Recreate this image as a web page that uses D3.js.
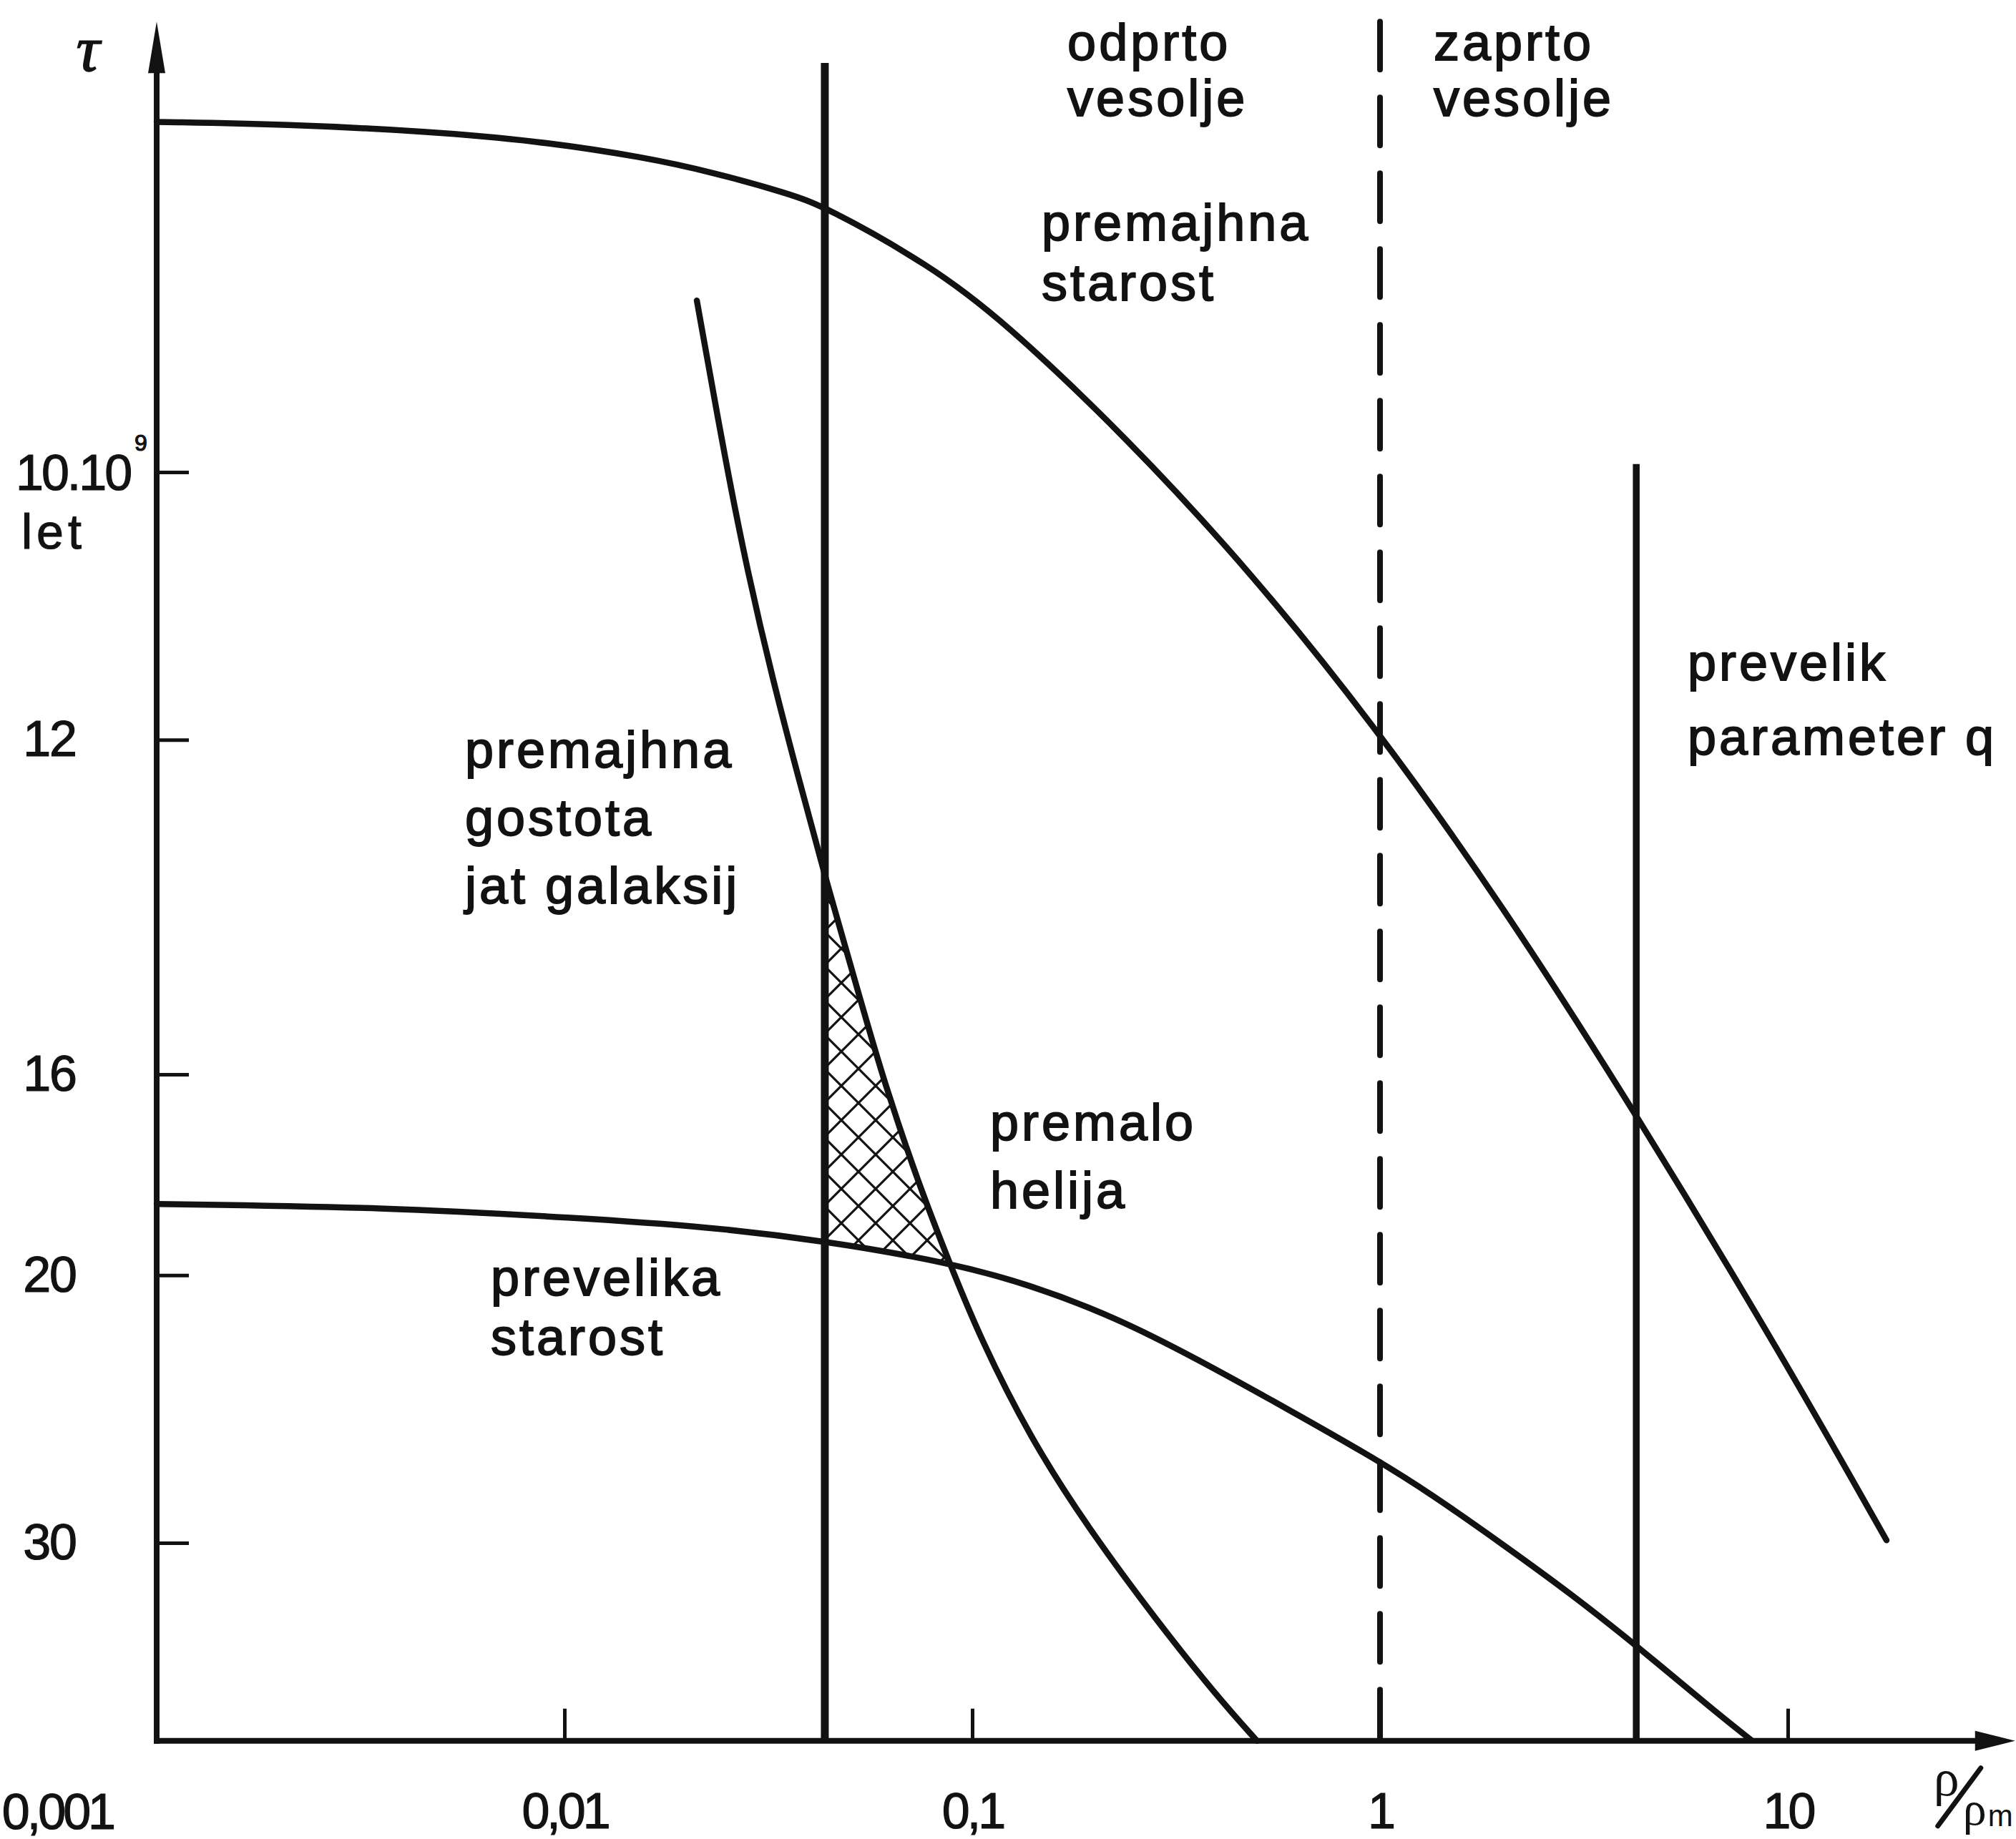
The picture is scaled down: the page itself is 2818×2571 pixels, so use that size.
<!DOCTYPE html>
<html><head><meta charset="utf-8">
<script src="https://cdn.jsdelivr.net/npm/d3@7"></script>
<style>html,body{margin:0;padding:0;background:#fff;} svg{display:block;}</style>
</head><body>
<svg id="chart" width="2818" height="2571"></svg>
<script>
// ---------------- data (ρ/ρm , τ in 10^9 years) ----------------
const xTickValues = [0.01, 0.1, 1, 10];
const xTickLabels = ["0,01", "0,1", "1", "10"];
const xOriginLabel = "0,001";
const yTickValues = [10, 12, 16, 20, 30];
const yTickLabels = ["10.10", "12", "16", "20", "30"];
const yExponent = "9";
const yUnit = "let";

// upper age curve ("premajhna starost")
const topCurve = [[0.001,8.21],[0.00208,8.22],[0.00466,8.25],[0.00854,8.29],[0.01565,8.36],[0.02346,8.43],
  [0.03512,8.52],[0.04351,8.58],[0.07876,8.86],[0.118,9.13],[0.2393,9.79],[0.4815,10.66],[0.988,11.91],
  [1.995,13.69],[4.162,16.55],[9.761,22.30],[17.46,29.85]];
// helium curve ("premalo helija")
const heliumCurve = [[0.02112,9.035],[0.02492,9.956],[0.02812,10.66],[0.03239,11.48],[0.03761,12.37],
  [0.04351,13.36],[0.05052,14.46],[0.0601,16.03],[0.07418,18.0],[0.08789,19.69],[0.1045,21.69],
  [0.1387,25.08],[0.1916,29.14],[0.287,35.33],[0.3964,41.93],[0.4992,47.6]];
// lower age curve ("prevelika starost")
const lowerCurve = [[0.001,18.37],[0.003642,18.44],[0.01084,18.67],[0.02234,18.86],[0.04351,19.18],
  [0.08789,19.69],[0.1376,20.23],[0.2252,21.11],[0.3527,22.30],[0.594,24.0],[0.988,25.99],[1.332,27.48],
  [1.995,30.06],[2.988,33.30],[4.247,37.09],[6.705,44.0],[8.138,47.5]];
// allowed region (hatched)
const allowedRegion = [[0.04351,13.36],[0.05052,14.46],[0.0601,16.03],[0.07418,18.0],[0.08789,19.69],[0.04351,19.18]];
// vertical boundaries
const boundaryRho = [0.0435, 1, 4.25];
const boundaryTop = [7.97, 7.81, 9.95];
const boundaryDashed = [false, true, false];
// axis extents
const tauAxisTop = 7.81, tauAxisBottom = 47.6, rhoAxisEnd = 36.1;
// region labels: text lines with data anchors
const labelText = ["odprto","vesolje","zaprto","vesolje","premajhna","starost","premajhna","gostota","jat galaksij",
  "premalo","helija","prevelika","starost","prevelik","parameter q"];
const labelRho = [0.1712,0.1712,1.354,1.354,0.148,0.148,0.005703,0.005703,0.005703,0.1106,0.1106,0.006596,0.006596,5.68,5.68];
const labelTau = [7.959,8.185,7.959,8.185,8.739,9.034,12.254,12.924,13.671,17.12,18.459,20.52,22.2,11.49,12.135];

// ---------------- drawing ----------------
const svg = d3.select("#chart");
const W = 2818;
const ink = "#121212";
const sans = "'Liberation Sans', Arial, Helvetica, sans-serif";
const serif = "'Liberation Serif', 'DejaVu Serif', serif";
const x = d3.scaleLog().domain([0.001, 10]).range([219, 2499]);
const y = d3.scalePow().exponent(-1).domain([10, 30]).range([660, 2157]);
const x0 = x(0.001), yBase = y(tauAxisBottom), yTip = y(tauAxisTop), xTip = x(rhoAxisEnd);

svg.append("rect").attr("width", W).attr("height", 2571).attr("fill", "#fff");

const defs = svg.append("defs");
const pat = defs.append("pattern").attr("id", "hatch").attr("patternUnits", "userSpaceOnUse")
  .attr("width", 48).attr("height", 48).attr("patternTransform", "translate(0,6)");
pat.append("path").attr("d", "M0,0L48,48M48,0L0,48M-4,44L4,52M44,-4L52,4M-4,4L4,-4M44,52L52,44")
  .attr("stroke", ink).attr("stroke-width", 3.2).attr("fill", "none");

svg.append("path").datum(allowedRegion)
  .attr("d", d3.line().x(d => x(d[0])).y(d => y(d[1])).curve(d3.curveLinearClosed))
  .attr("fill", "url(#hatch)").attr("stroke", "none");

const smooth = d3.line().x(d => x(d[0])).y(d => y(d[1])).curve(d3.curveBasis);
[topCurve, heliumCurve, lowerCurve].forEach(c => {
  svg.append("path").datum(c).attr("d", smooth).attr("fill", "none")
    .attr("stroke", ink).attr("stroke-width", 8.5).attr("stroke-linecap", "round").attr("stroke-linejoin", "round");
});

boundaryRho.forEach((r, i) => {
  const l = svg.append("line").attr("x1", x(r)).attr("x2", x(r))
    .attr("y1", y(boundaryTop[i])).attr("y2", yBase).attr("stroke", ink);
  if (boundaryDashed[i]) {
    l.attr("stroke-width", 8).attr("stroke-dasharray", "67 39").attr("stroke-linecap", "round");
  } else {
    l.attr("stroke-width", i === 0 ? 11 : 9.5);
  }
});

// axes
const gy = svg.append("g").attr("transform", `translate(${x0},0)`)
  .call(d3.axisLeft(y).tickValues(yTickValues).tickSizeInner(-45).tickSizeOuter(0).tickPadding(113)
    .tickFormat((d, i) => i === 0 ? "" : yTickLabels[i]));
gy.select(".domain").remove();
gy.attr("font-family", sans).attr("font-size", 70);
gy.selectAll(".tick line").attr("stroke", ink).attr("stroke-width", 5);
gy.selectAll(".tick text").attr("fill", ink).attr("letter-spacing", -2).attr("stroke", ink).attr("stroke-width", 1.2);

const gx = svg.append("g").attr("transform", `translate(0,${yBase})`)
  .call(d3.axisBottom(x).tickValues(xTickValues).tickSizeInner(-45).tickSizeOuter(0).tickPadding(73)
    .tickFormat((d, i) => xTickLabels[i]));
gx.select(".domain").remove();
gx.attr("font-family", sans).attr("font-size", 70);
gx.selectAll(".tick line").attr("stroke", ink).attr("stroke-width", 5);
gx.selectAll(".tick text").attr("fill", ink).attr("letter-spacing", -4).attr("stroke", ink).attr("stroke-width", 1.2);

svg.append("line").attr("x1", x0).attr("x2", x0).attr("y1", yBase + 4).attr("y2", yTip + 60)
  .attr("stroke", ink).attr("stroke-width", 8);
svg.append("path").attr("d", `M${x0},${yTip}L${x0 - 12},${yTip + 72}L${x0 + 12},${yTip + 72}Z`).attr("fill", ink);
svg.append("line").attr("x1", x0 - 4).attr("x2", xTip - 50).attr("y1", yBase).attr("y2", yBase)
  .attr("stroke", ink).attr("stroke-width", 8);
svg.append("path").attr("d", `M${xTip},${yBase}L${xTip - 56},${yBase - 14}L${xTip - 56},${yBase + 14}Z`).attr("fill", ink);

// axis labels
const tickText = (sel) => sel.attr("font-family", sans).attr("fill", ink).attr("stroke", ink).attr("stroke-width", 1.2);
svg.append("text").attr("x", x0 - 61).attr("y", yBase + 123).attr("text-anchor", "end")
  .attr("font-size", 70).attr("letter-spacing", -4).call(tickText).text(xOriginLabel);
svg.append("text").attr("x", x0 - 197).attr("y", y(10) + 25).attr("font-size", 70)
  .attr("letter-spacing", -3).call(tickText).text(yTickLabels[0]);
svg.append("text").attr("x", x0 - 31).attr("y", y(10) - 30).attr("font-size", 32).call(tickText).text(yExponent);
svg.append("text").attr("x", x0 - 189).attr("y", y(10) + 107).attr("font-size", 68)
  .attr("letter-spacing", 6).call(tickText).text(yUnit);
svg.append("text").attr("x", x0 - 96).attr("y", yTip + 69).attr("text-anchor", "middle")
  .attr("font-family", serif).attr("font-style", "italic").attr("font-size", 92).attr("fill", ink)
  .attr("stroke", ink).attr("stroke-width", 1.5).text("τ");

// ρ/ρm
const rl = svg.append("g").attr("fill", ink).attr("font-family", serif);
rl.append("text").attr("x", xTip - 114).attr("y", yBase + 76).attr("font-size", 72).text("ρ");
rl.append("line").attr("x1", xTip - 48).attr("y1", yBase + 38).attr("x2", xTip - 108).attr("y2", yBase + 119)
  .attr("stroke", ink).attr("stroke-width", 7).attr("stroke-linecap", "round");
rl.append("text").attr("x", xTip - 73).attr("y", yBase + 117).attr("font-size", 66).text("ρ");
rl.append("text").attr("x", xTip - 38).attr("y", yBase + 119).attr("font-size", 42).attr("font-family", sans).text("m");

// region labels
svg.append("g").selectAll("text").data(labelText).join("text")
  .attr("x", (d, i) => x(labelRho[i])).attr("y", (d, i) => y(labelTau[i]))
  .attr("font-family", sans).attr("font-size", 72).attr("letter-spacing", 4)
  .attr("fill", ink).attr("stroke", ink).attr("stroke-width", 1.8)
  .text(d => d);
</script>
</body></html>
